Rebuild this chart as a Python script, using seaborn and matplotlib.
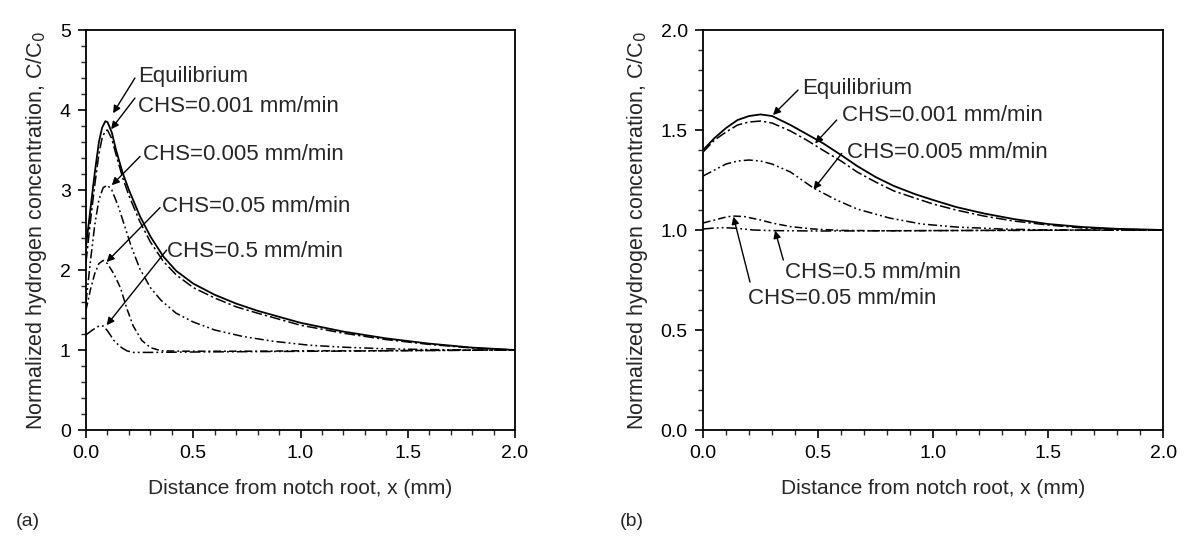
import numpy as np
import pandas as pd
import matplotlib
matplotlib.use("Agg")
import matplotlib.pyplot as plt
from matplotlib.ticker import MultipleLocator
import seaborn as sns

# ---- panel (a) data ----
a_eq_x = [0, 0.02, 0.04, 0.06, 0.075, 0.09, 0.10, 0.12, 0.14, 0.17, 0.20, 0.25, 0.30, 0.36,
          0.42, 0.50, 0.60, 0.70, 0.80, 1.00, 1.20, 1.40, 1.60, 1.80, 2.00]
a_eq_y = [2.3, 2.75, 3.2, 3.6, 3.78, 3.86, 3.85, 3.72, 3.5, 3.22, 3.0, 2.68, 2.42, 2.17,
          1.99, 1.83, 1.69, 1.58, 1.49, 1.34, 1.23, 1.145, 1.08, 1.03, 1.0]
a_001_y = [2.1, 2.6, 3.05, 3.45, 3.65, 3.74, 3.75, 3.64, 3.44, 3.16, 2.93, 2.61, 2.35, 2.11,
           1.94, 1.78, 1.65, 1.54, 1.46, 1.31, 1.21, 1.13, 1.07, 1.025, 1.0]
a_005_x = [0, 0.02, 0.04, 0.06, 0.08, 0.10, 0.12, 0.15, 0.18, 0.21, 0.25, 0.30, 0.35, 0.42,
           0.50, 0.60, 0.73, 0.87, 1.04, 1.20, 1.40, 1.60, 1.80, 2.0]
a_005_y = [1.6, 2.1, 2.55, 2.88, 3.03, 3.06, 3.0, 2.8, 2.55, 2.3, 2.02, 1.78, 1.62, 1.46,
           1.35, 1.25, 1.17, 1.11, 1.06, 1.035, 1.015, 1.005, 1.0, 1.0]
a_05_x = [0, 0.02, 0.04, 0.06, 0.08, 0.10, 0.13, 0.16, 0.19, 0.22, 0.26, 0.30, 0.35, 0.45,
          0.60, 0.80, 1.0, 1.3, 1.6, 2.0]
a_05_y = [1.5, 1.75, 1.95, 2.08, 2.12, 2.08, 1.95, 1.78, 1.52, 1.3, 1.12, 1.03, 0.99, 0.985,
          0.985, 0.985, 0.99, 0.99, 0.995, 1.0]
a_5_x = [0, 0.03, 0.06, 0.08, 0.10, 0.13, 0.16, 0.19, 0.22, 0.30, 0.50, 0.80, 1.10, 1.40, 1.70, 2.0]
a_5_y = [1.19, 1.25, 1.3, 1.3, 1.24, 1.12, 1.04, 0.99, 0.97, 0.97, 0.975, 0.98, 0.985, 0.99, 0.995, 1.0]

# ---- panel (b) data ----
b_eq_x = [0, 0.05, 0.10, 0.15, 0.20, 0.25, 0.30, 0.38, 0.45, 0.52, 0.60, 0.67, 0.75, 0.83,
          0.92, 1.00, 1.10, 1.22, 1.35, 1.50, 1.65, 1.80, 2.0]
b_eq_y = [1.40, 1.46, 1.51, 1.55, 1.57, 1.578, 1.57, 1.525, 1.48, 1.435, 1.375, 1.32, 1.265,
          1.22, 1.18, 1.15, 1.115, 1.083, 1.055, 1.03, 1.015, 1.006, 1.0]
b_001_y = [1.39, 1.45, 1.49, 1.525, 1.54, 1.545, 1.535, 1.495, 1.45, 1.40, 1.345, 1.29, 1.24,
           1.195, 1.16, 1.13, 1.10, 1.07, 1.045, 1.025, 1.01, 1.004, 1.0]
b_005_x = [0, 0.05, 0.10, 0.15, 0.20, 0.25, 0.30, 0.38, 0.48, 0.58, 0.67, 0.81, 0.95, 1.10,
           1.30, 1.50, 1.75, 2.0]
b_005_y = [1.27, 1.30, 1.33, 1.345, 1.35, 1.345, 1.33, 1.29, 1.21, 1.15, 1.105, 1.06, 1.03,
           1.015, 1.005, 1.0, 1.0, 1.0]
b_05_x = [0, 0.05, 0.10, 0.13, 0.18, 0.25, 0.30, 0.38, 0.48, 0.60, 0.80, 1.2, 1.6, 2.0]
b_05_y = [1.035, 1.05, 1.065, 1.07, 1.067, 1.05, 1.035, 1.017, 1.005, 0.998, 0.996, 0.998, 0.999, 1.0]
b_5_x = [0, 0.05, 0.09, 0.15, 0.22, 0.30, 0.50, 1.0, 1.5, 2.0]
b_5_y = [1.005, 1.01, 1.012, 1.008, 1.0, 0.997, 0.995, 0.997, 0.999, 1.0]

labels = ["Equilibrium", "CHS=0.001 mm/min", "CHS=0.005 mm/min",
          "CHS=0.05 mm/min", "CHS=0.5 mm/min"]
styles = ["-", (0, (7, 2, 1.5, 2)), (0, (6, 2, 1.2, 2, 1.2, 2)),
          (0, (5, 2, 1.2, 2)), (0, (7, 2, 1.2, 2, 1.2, 2))]

sns.set_style("ticks")
plt.rcParams["font.family"] = ["Liberation Sans", "DejaVu Sans"]

fig = plt.figure(figsize=(11.9, 5.4), dpi=100)
ax1 = fig.add_axes([0.0723, 0.2037, 0.3605, 0.7407])
ax2 = fig.add_axes([0.5908, 0.2037, 0.3866, 0.7407])

panel_a = [(a_eq_x, a_eq_y), (a_eq_x, a_001_y), (a_005_x, a_005_y), (a_05_x, a_05_y), (a_5_x, a_5_y)]
panel_b = [(b_eq_x, b_eq_y), (b_eq_x, b_001_y), (b_005_x, b_005_y), (b_05_x, b_05_y), (b_5_x, b_5_y)]

for ax, panel in [(ax1, panel_a), (ax2, panel_b)]:
    for (xs, ys), ls, lab in zip(panel, styles, labels):
        df = pd.DataFrame({"x": xs, "y": ys})
        sns.lineplot(data=df, x="x", y="y", ax=ax, color="black",
                     linestyle=ls, lw=1.3 if ls == "-" else 1.1, errorbar=None)

# annotations: (text, text pos, arrow tail, arrow tip)
ann_a = [
    ("Equilibrium", (0.242, 4.42), (0.228, 4.40), (0.126, 3.96)),
    ("CHS=0.001 mm/min", (0.242, 4.05), (0.228, 4.15), (0.117, 3.76)),
    ("CHS=0.005 mm/min", (0.264, 3.45), (0.252, 3.42), (0.12, 3.06)),
    ("CHS=0.05 mm/min", (0.353, 2.80), (0.345, 2.78), (0.096, 2.10)),
    ("CHS=0.5 mm/min", (0.376, 2.23), (0.376, 2.25), (0.096, 1.31)),
]
ann_b = [
    ("Equilibrium", (0.43, 1.71), (0.413, 1.70), (0.304, 1.575)),
    ("CHS=0.001 mm/min", (0.604, 1.575), (0.581, 1.55), (0.487, 1.433)),
    ("CHS=0.005 mm/min", (0.626, 1.39), (0.603, 1.383), (0.48, 1.203)),
    ("CHS=0.5 mm/min", (0.357, 0.79), (0.349, 0.85), (0.313, 0.997)),
    ("CHS=0.05 mm/min", (0.196, 0.66), (0.204, 0.74), (0.132, 1.067)),
]
for ax, anns in [(ax1, ann_a), (ax2, ann_b)]:
    for txt, tpos, tail, tip in anns:
        ax.text(tpos[0], tpos[1], txt, ha="left", va="center", fontsize=16)
        ax.annotate("", xy=tip, xytext=tail,
                    arrowprops=dict(arrowstyle="-|>", color="black", lw=1.0,
                                    mutation_scale=11, shrinkA=0, shrinkB=0))

ax1.set_xlim(0, 2)
ax1.set_ylim(0, 5)
ax1.yaxis.set_major_locator(MultipleLocator(1))
ax1.yaxis.set_minor_locator(MultipleLocator(0.2))
ax1.yaxis.set_major_formatter(plt.FormatStrFormatter("%d"))
ax2.set_xlim(0, 2)
ax2.set_ylim(0, 2)
ax2.yaxis.set_major_locator(MultipleLocator(0.5))
ax2.yaxis.set_minor_locator(MultipleLocator(0.1))
ax2.yaxis.set_major_formatter(plt.FormatStrFormatter("%.1f"))

for ax in (ax1, ax2):
    ax.xaxis.set_major_locator(MultipleLocator(0.5))
    ax.xaxis.set_minor_locator(MultipleLocator(0.1))
    ax.xaxis.set_major_formatter(plt.FormatStrFormatter("%.1f"))
    for s in ax.spines.values():
        s.set_visible(True)
        s.set_linewidth(1.3)
        s.set_color("black")
    ax.tick_params(which="major", direction="out", length=6, width=1.2,
                   labelsize=14, pad=5, colors="black")
    ax.tick_params(which="minor", direction="out", length=3.5, width=1.0)
    ax.set_xlabel("Distance from notch root, x (mm)", fontsize=15, labelpad=12)
    ax.set_ylabel("Normalized hydrogen concentration, C/C$_0$", fontsize=15.5, labelpad=8)

fig.text(0.013, 0.035, "(a)", fontsize=14, ha="left", va="center")
fig.text(0.521, 0.035, "(b)", fontsize=14, ha="left", va="center")

fig.savefig("out.png", dpi=100)
